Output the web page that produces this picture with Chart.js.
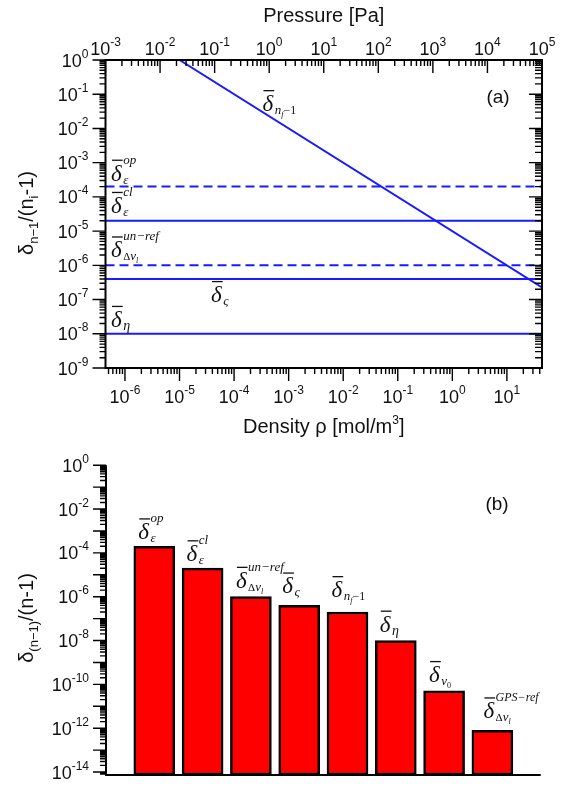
<!DOCTYPE html>
<html><head><meta charset="utf-8">
<script src="https://cdn.jsdelivr.net/npm/chart.js@4.4.0/dist/chart.umd.min.js"></script>
<style>
html,body{margin:0;padding:0;background:#fff;}
#ca{position:absolute;left:0;top:0;}
#cb{position:absolute;left:0;top:445px;}
</style></head><body>
<canvas id="ca" width="565" height="445"></canvas>
<canvas id="cb" width="565" height="342"></canvas>
<script>
// ---------- data ----------
const densityRange = [4.4e-7, 44];          // mol/m^3 (bottom axis of (a))
const pressureRange = [1e-3, 1e5];          // Pa (top axis of (a))
const yRangeA = [1e-9, 1];
const hLineNames = ['op', 'cl', 'unref', 'sigma', 'eta'];
const hLineValues = [2e-4, 2e-5, 1e-6, 4e-7, 1e-8];
const hLineDashed = [true, false, true, false, false];
const nfLineDensity = [1e-5, 44];
const nfLineValue = [1, 2.27e-7];
const barCategories = ['op', 'cl', 'unref', 'sigma', 'nf', 'eta', 'nu0', 'gps'];
const barValues = [2e-4, 2e-5, 1e-6, 4e-7, 2e-7, 1e-8, 5e-11, 8e-13];
const yRangeB = [7.3e-15, 1];
const yTickExpA = [0, -1, -2, -3, -4, -5, -6, -7, -8, -9];
const xTickExpDensity = [-6, -5, -4, -3, -2, -1, 0, 1];
const xTickExpPressure = [-3, -2, -1, 0, 1, 2, 3, 4, 5];
const yTickExpB = [0, -2, -4, -6, -8, -10, -12, -14];

// ---------- text helpers ----------
const SANS = '"Liberation Sans", Arial, sans-serif';
const SERIF = '"Liberation Serif", "Times New Roman", serif';
function fnt(size, fam, it) { return (it ? 'italic ' : '') + size + 'px ' + (fam || SANS); }
function runsWidth(ctx, runs) {
  let w = 0;
  for (const r of runs) { ctx.font = fnt(r[1], r[3], r[4]); w += ctx.measureText(r[0]).width; }
  return w;
}
function drawRuns(ctx, x, y, runs) {
  let cx = x;
  for (const r of runs) {
    ctx.font = fnt(r[1], r[3], r[4]);
    ctx.fillText(r[0], cx, y + (r[2] || 0));
    cx += ctx.measureText(r[0]).width;
  }
  return cx - x;
}
function powRuns(e) { return [['10', 18, 0], [String(e), 12, -9]]; }

const LABELS = {
  op:    {sup: [['op', 13, 0, SERIF, true]], sub: [['ε', 13, 0, SERIF, true]]},
  cl:    {sup: [['cl', 13, 0, SERIF, true]], sub: [['ε', 13, 0, SERIF, true]]},
  unref: {sup: [['un−ref', 13, 0, SERIF, true]], sub: [['Δ', 11, 0, SERIF, false], ['ν', 13, 0, SERIF, true], ['l', 8, 3, SERIF, true]]},
  sigma: {sub: [['ς', 13, 0, SERIF, true]]},
  nf:    {sub: [['n', 13, 0, SERIF, true], ['f', 8, 3, SERIF, true], ['−1', 12, 0, SERIF, false]]},
  eta:   {sub: [['η', 14, 0, SERIF, true]]},
  nu0:   {sub: [['ν', 13, 0, SERIF, true], ['0', 8, 3, SERIF, false]]},
  gps:   {sup: [['GPS−ref', 12, 0, SERIF, true]], sub: [['Δ', 11, 0, SERIF, false], ['ν', 13, 0, SERIF, true], ['l', 8, 3, SERIF, true]]}
};
function deltaLabel(ctx, x, y, key) {
  const L = LABELS[key];
  ctx.fillStyle = '#111';
  ctx.font = fnt(23, SERIF, true);
  ctx.fillText('δ', x, y);
  const w = ctx.measureText('δ').width;
  ctx.fillRect(x + 1, y - 21, w, 1.3);
  const sx = x + w + 1.5;
  if (L.sup) drawRuns(ctx, sx, y - 17, L.sup);
  if (L.sub) drawRuns(ctx, sx, y + 3, L.sub);
}

function logValues(min, max) {
  const out = [];
  for (let e = Math.floor(Math.log10(min)); e <= Math.ceil(Math.log10(max)); e++) {
    for (let m = 1; m <= 9; m++) {
      const v = m * Math.pow(10, e);
      if (v >= min * 0.9999 && v <= max * 1.0001) out.push({v, major: m === 1, e});
    }
  }
  return out;
}
function ticksOn(ctx, scale, horiz, pos, dir, majL, minL) {
  ctx.beginPath();
  for (const t of logValues(scale.min, scale.max)) {
    const p = scale.getPixelForValue(t.v);
    const L = t.major ? majL : minL;
    if (horiz) { ctx.moveTo(p, pos); ctx.lineTo(p, pos + dir * L); }
    else { ctx.moveTo(pos, p); ctx.lineTo(pos + dir * L, p); }
  }
  ctx.stroke();
}
function rotatedTitle(ctx, cx, cy, runs) {
  ctx.save();
  ctx.translate(cx, cy);
  ctx.rotate(-Math.PI / 2);
  const w = runsWidth(ctx, runs);
  drawRuns(ctx, -w / 2, 6, runs);
  ctx.restore();
}

// ---------- chart (a) ----------
const plugA = {
  id: 'decoA',
  afterDraw(chart) {
    const ctx = chart.ctx, a = chart.chartArea;
    const sx = chart.scales.x, sp = chart.scales.xp, sy = chart.scales.y;
    ctx.save();
    ctx.strokeStyle = '#000'; ctx.fillStyle = '#111';
    ctx.lineWidth = 2;
    ctx.strokeRect(a.left, a.top, a.right - a.left, a.bottom - a.top);
    ctx.lineWidth = 1.4;
    ticksOn(ctx, sy, false, a.left, -1, 13, 6);
    ticksOn(ctx, sy, false, a.right, -1, 13, 7);
    ticksOn(ctx, sx, true, a.bottom, 1, 13, 6);
    ticksOn(ctx, sp, true, a.top, 1, 13, 6);
    ctx.textBaseline = 'alphabetic';
    for (const e of yTickExpA) {
      const r = powRuns(e), w = runsWidth(ctx, r);
      drawRuns(ctx, a.left - 17 - w, sy.getPixelForValue(Math.pow(10, e)) + 6.5, r);
    }
    for (const e of xTickExpDensity) {
      const r = powRuns(e), w = runsWidth(ctx, r);
      drawRuns(ctx, sx.getPixelForValue(Math.pow(10, e)) - w / 2, a.bottom + 35, r);
    }
    for (const e of xTickExpPressure) {
      const r = powRuns(e), w = runsWidth(ctx, r);
      drawRuns(ctx, sp.getPixelForValue(Math.pow(10, e)) - w / 2, a.top - 5, r);
    }
    const mid = (a.left + a.right) / 2;
    let r = [['Pressure [Pa]', 20, 0]];
    drawRuns(ctx, mid - runsWidth(ctx, r) / 2, 22, r);
    r = [['Density ρ [mol/m', 20, 0], ['3', 12, -9], [']', 20, 0]];
    drawRuns(ctx, mid - runsWidth(ctx, r) / 2, 433, r);
    rotatedTitle(ctx, 27, 213, [['δ', 20, 0], ['n−1', 13, 5], ['/(n', 20, 0], ['i', 13, 5], ['-1)', 20, 0]]);
    r = [['(a)', 19, 0]];
    drawRuns(ctx, 498 - runsWidth(ctx, r) / 2, 103, r);
    const off = {op: [5.5, -6], cl: [5.5, -8], unref: [5.5, -8], sigma: [105.5, 23], eta: [5.5, -7]};
    hLineNames.forEach((n, i) => {
      deltaLabel(ctx, a.left + off[n][0], sy.getPixelForValue(hLineValues[i]) + off[n][1], n);
    });
    deltaLabel(ctx, a.left + 157, a.top + 51, 'nf');
    ctx.restore();
  }
};

const dsA = hLineValues.map((v, i) => ({
  data: [{x: densityRange[0], y: v}, {x: densityRange[1], y: v}],
  showLine: true, borderColor: '#1a1aff', borderWidth: 2,
  borderDash: hLineDashed[i] ? [9, 5] : [], pointRadius: 0
}));
dsA.push({
  data: nfLineDensity.map((x, i) => ({x, y: nfLineValue[i]})),
  showLine: true, borderColor: '#1a1aff', borderWidth: 2, pointRadius: 0
});

new Chart(document.getElementById('ca'), {
  type: 'scatter',
  data: {datasets: dsA},
  options: {
    responsive: false, animation: false, events: [],
    layout: {padding: {left: 0, right: 23, top: 0, bottom: 0}},
    plugins: {legend: {display: false}, tooltip: {enabled: false}},
    scales: {
      x: {type: 'logarithmic', position: 'bottom', min: densityRange[0], max: densityRange[1],
          ticks: {display: false}, grid: {display: false}, border: {display: false},
          afterFit(s) { s.height = 77; }},
      xp: {type: 'logarithmic', position: 'top', min: pressureRange[0], max: pressureRange[1],
          ticks: {display: false}, grid: {display: false}, border: {display: false},
          afterFit(s) { s.height = 60; }},
      y: {type: 'logarithmic', position: 'left', min: yRangeA[0], max: yRangeA[1],
          ticks: {display: false}, grid: {display: false}, border: {display: false},
          afterFit(s) { s.width = 105.5; }}
    }
  },
  plugins: [plugA]
});

// ---------- chart (b) ----------
const barLabelOff = [[4, 7], [4, 7], [5, 9], [3, 12], [4, 15], [4, 9], [5, 9], [11, 12]];
const plugB = {
  id: 'decoB',
  afterDraw(chart) {
    const ctx = chart.ctx, a = chart.chartArea;
    const sx = chart.scales.x, sy = chart.scales.y;
    ctx.save();
    ctx.strokeStyle = '#000'; ctx.fillStyle = '#111';
    ctx.lineWidth = 2;
    ctx.beginPath();
    ctx.moveTo(a.left, a.top); ctx.lineTo(a.left, a.bottom); ctx.lineTo(a.right, a.bottom);
    ctx.stroke();
    ctx.lineWidth = 1.4;
    ticksOn(ctx, sy, false, a.left, -1, 13, 6);
    for (const e of yTickExpB) {
      const r = powRuns(e), w = runsWidth(ctx, r);
      drawRuns(ctx, a.left - 17 - w, sy.getPixelForValue(Math.pow(10, e)) + 6.5, r);
    }
    rotatedTitle(ctx, 27, 173, [['δ', 20, 0], ['(n−1)', 13, 5], ['/(n-1)', 20, 0]]);
    const r = [['(b)', 19, 0]];
    drawRuns(ctx, 497 - runsWidth(ctx, r) / 2, 65, r);
    barCategories.forEach((c, i) => {
      const px = sx.getPixelForValue(i + 1) - 20 + barLabelOff[i][0];
      const py = sy.getPixelForValue(barValues[i]) - barLabelOff[i][1];
      deltaLabel(ctx, px, py, c);
    });
    ctx.restore();
  }
};

new Chart(document.getElementById('cb'), {
  type: 'bar',
  data: {datasets: [{
    data: barValues.map((v, i) => ({x: i + 1, y: v})),
    backgroundColor: '#ff0000', borderColor: '#000', borderWidth: 2.5,
    borderSkipped: false, barThickness: 41
  }]},
  options: {
    responsive: false, animation: false, events: [],
    layout: {padding: {left: 0, right: 24.3, top: 20.2, bottom: 0}},
    plugins: {legend: {display: false}, tooltip: {enabled: false}},
    scales: {
      x: {type: 'linear', min: 0, max: 9, offset: false,
          ticks: {display: false}, grid: {display: false}, border: {display: false},
          afterFit(s) { s.height = 12; }},
      y: {type: 'logarithmic', min: yRangeB[0], max: yRangeB[1],
          ticks: {display: false}, grid: {display: false}, border: {display: false},
          afterFit(s) { s.width = 106; }}
    }
  },
  plugins: [plugB]
});
</script>
</body></html>
